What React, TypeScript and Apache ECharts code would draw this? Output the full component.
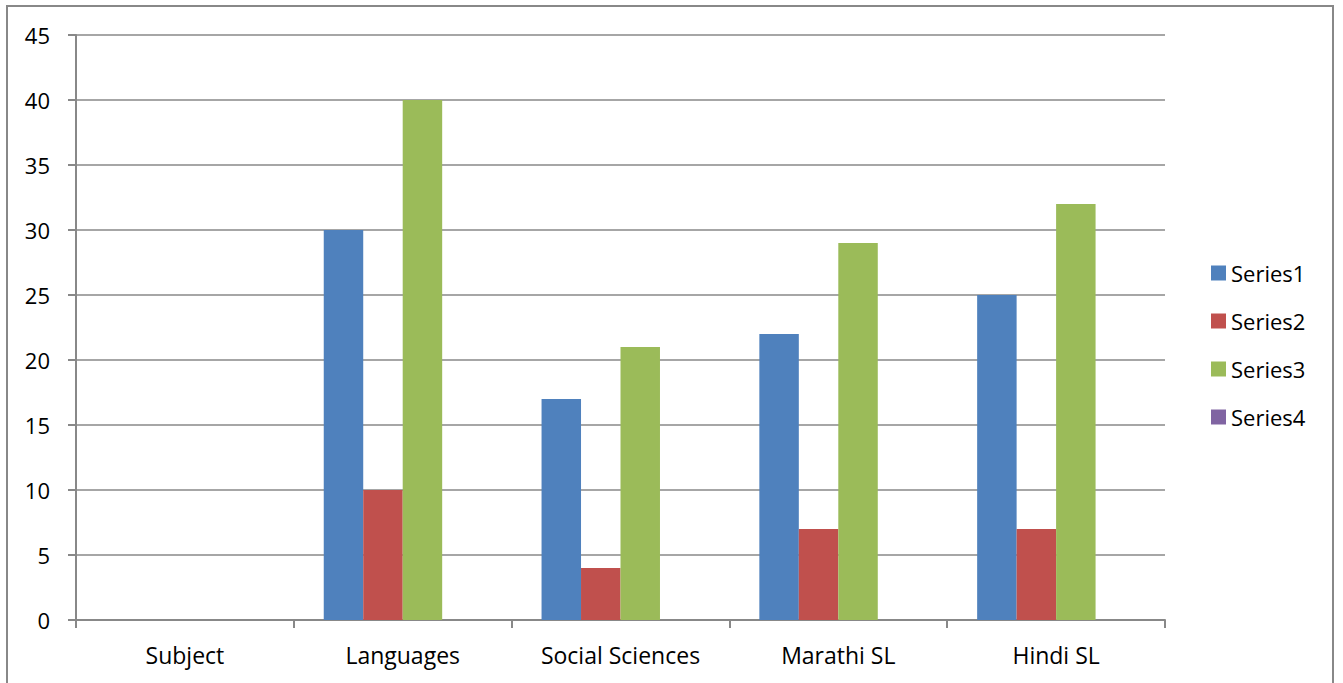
import React, { useEffect, useRef } from "react";
import * as echarts from "echarts";

const categories = ["Subject", "Languages", "Social Sciences", "Marathi SL", "Hindi SL"];
const series1 = [0, 30, 17, 22, 25];
const series2 = [0, 10, 4, 7, 7];
const series3 = [0, 40, 21, 29, 32];
const series4 = [0, 0, 0, 0, 0];
const seriesNames = ["Series1", "Series2", "Series3", "Series4"];
const colors = ["#4F81BD", "#C0504D", "#9BBB59", "#8064A2"];

const FONT = "'Open Sans', Lato, sans-serif";

export default function App() {
  const ref = useRef<HTMLDivElement>(null);
  useEffect(() => {
    if (!ref.current) return;
    const chart = echarts.init(ref.current, null, { renderer: "svg" });
    const data = [series1, series2, series3, series4];
    chart.setOption({
      animation: false,
      backgroundColor: "#ffffff",
      textStyle: { fontFamily: FONT },
      graphic: [
        {
          type: "rect",
          shape: { x: 7, y: 6, width: 1326, height: 720 },
          style: { fill: "none", stroke: "#888888", lineWidth: 2 },
          silent: true,
        },
      ],
      grid: { left: 76, top: 35, width: 1089, height: 585, containLabel: false },
      legend: {
        orient: "vertical",
        left: 1206,
        top: 257,
        itemWidth: 15,
        itemHeight: 15,
        itemGap: 26,
        itemTextGap: 6,
        icon: "rect",
        data: seriesNames,
        textStyle: { fontFamily: FONT, fontSize: 22, color: "#000", lineHeight: 22 },
      },
      xAxis: {
        type: "category",
        data: categories,
        axisLine: { lineStyle: { color: "#888888", width: 2 } },
        axisTick: { show: true, length: 8, lineStyle: { color: "#888888", width: 2 } },
        axisLabel: { fontFamily: FONT, fontSize: 23, color: "#000", margin: 23 },
        splitLine: { show: false },
      },
      yAxis: {
        type: "value",
        min: 0,
        max: 45,
        interval: 5,
        axisLine: { show: true, lineStyle: { color: "#888888", width: 2 } },
        axisTick: { show: true, length: 8, lineStyle: { color: "#888888", width: 2 } },
        axisLabel: { fontFamily: FONT, fontSize: 22, color: "#000", margin: 26 },
        splitLine: { show: true, lineStyle: { color: "#888888", width: 1.5 } },
      },
      series: seriesNames.map((name, i) => ({
        name,
        type: "bar",
        data: data[i],
        barGap: "0%",
        barCategoryGap: "27.5%",
        itemStyle: { color: colors[i] },
      })),
    });
    return () => chart.dispose();
  }, []);
  return (
    <div
      ref={ref}
      style={{ position: "fixed", left: 0, top: 0, width: 1343, height: 683 }}
    />
  );
}
